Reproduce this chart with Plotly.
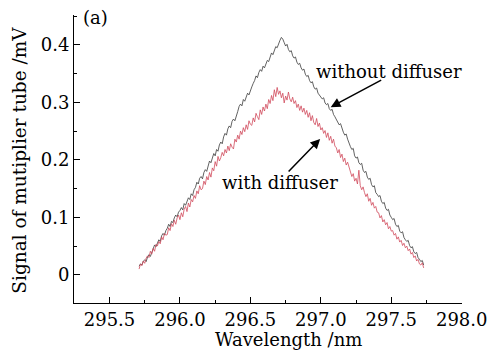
import numpy as np
import plotly.graph_objects as go

# Wavelength grid (nm): 295.71 .. 297.73 in 0.01 nm steps
wl_start = 295.71
wl_step = 0.01

without_diffuser = [
    0.015, 0.019, 0.017, 0.024, 0.026, 0.023, 0.031, 0.035, 0.032, 0.040,
    0.046, 0.052, 0.049, 0.057, 0.061, 0.058, 0.068, 0.072, 0.069, 0.077,
    0.081, 0.088, 0.084, 0.093, 0.091, 0.099, 0.104, 0.101, 0.109, 0.112,
    0.117, 0.113, 0.124, 0.121, 0.129, 0.134, 0.131, 0.141, 0.138, 0.148,
    0.152, 0.161, 0.158, 0.168, 0.171, 0.167, 0.178, 0.183, 0.180, 0.191,
    0.198, 0.195, 0.205, 0.211, 0.207, 0.218, 0.215, 0.226, 0.231, 0.228,
    0.240, 0.246, 0.243, 0.254, 0.259, 0.256, 0.267, 0.271, 0.268, 0.279,
    0.284, 0.293, 0.297, 0.294, 0.305, 0.302, 0.311, 0.316, 0.313, 0.322,
    0.327, 0.333, 0.338, 0.346, 0.343, 0.352, 0.357, 0.354, 0.363, 0.360,
    0.368, 0.373, 0.371, 0.380, 0.386, 0.383, 0.392, 0.397, 0.395, 0.403,
    0.408, 0.413, 0.410, 0.404, 0.398, 0.401, 0.392, 0.388, 0.390, 0.381,
    0.377, 0.379, 0.370, 0.366, 0.368, 0.360, 0.356, 0.358, 0.349, 0.345,
    0.347, 0.338, 0.334, 0.336, 0.327, 0.323, 0.325, 0.316, 0.313, 0.310,
    0.306, 0.308, 0.299, 0.296, 0.298, 0.289, 0.286, 0.288, 0.279, 0.275,
    0.271, 0.266, 0.261, 0.263, 0.254, 0.248, 0.243, 0.245, 0.236, 0.228,
    0.223, 0.218, 0.220, 0.207, 0.203, 0.205, 0.195, 0.192, 0.194, 0.182,
    0.178, 0.180, 0.170, 0.166, 0.168, 0.157, 0.153, 0.155, 0.143, 0.140,
    0.136, 0.138, 0.128, 0.124, 0.126, 0.116, 0.112, 0.114, 0.104, 0.100,
    0.096, 0.098, 0.088, 0.084, 0.086, 0.076, 0.073, 0.075, 0.065, 0.061,
    0.058, 0.060, 0.051, 0.047, 0.049, 0.040, 0.037, 0.039, 0.030, 0.027,
    0.023, 0.025, 0.017,
]

with_diffuser = [
    0.010, 0.019, 0.016, 0.024, 0.020, 0.029, 0.033, 0.030, 0.041, 0.036,
    0.046, 0.041, 0.053, 0.050, 0.058, 0.054, 0.066, 0.061, 0.072, 0.069,
    0.070, 0.082, 0.077, 0.089, 0.084, 0.095, 0.088, 0.099, 0.104, 0.096,
    0.108, 0.101, 0.114, 0.119, 0.110, 0.125, 0.118, 0.131, 0.127, 0.138,
    0.133, 0.146, 0.141, 0.155, 0.148, 0.150, 0.163, 0.157, 0.171, 0.165,
    0.178, 0.170, 0.186, 0.181, 0.197, 0.189, 0.206, 0.198, 0.204, 0.213,
    0.207, 0.218, 0.212, 0.224, 0.216, 0.228, 0.222, 0.219, 0.236, 0.231,
    0.243, 0.236, 0.250, 0.244, 0.256, 0.249, 0.261, 0.253, 0.268, 0.262,
    0.260, 0.273, 0.266, 0.281, 0.275, 0.270, 0.287, 0.279, 0.292, 0.285,
    0.297, 0.289, 0.305, 0.298, 0.312, 0.303, 0.322, 0.310, 0.326, 0.314,
    0.320, 0.308, 0.316, 0.299, 0.311, 0.304, 0.318, 0.306, 0.301, 0.309,
    0.298, 0.303, 0.291, 0.297, 0.286, 0.294, 0.283, 0.290, 0.279, 0.286,
    0.274, 0.282, 0.268, 0.277, 0.265, 0.261, 0.272, 0.258, 0.264, 0.252,
    0.256, 0.246, 0.251, 0.239, 0.247, 0.234, 0.241, 0.229, 0.236, 0.224,
    0.221, 0.212, 0.218, 0.204, 0.210, 0.197, 0.203, 0.191, 0.196, 0.186,
    0.180, 0.171, 0.176, 0.163, 0.168, 0.158, 0.182, 0.155, 0.148, 0.153,
    0.143, 0.136, 0.141, 0.128, 0.133, 0.121, 0.126, 0.116, 0.119, 0.109,
    0.108, 0.099, 0.103, 0.092, 0.096, 0.087, 0.091, 0.080, 0.084, 0.076,
    0.077, 0.069, 0.072, 0.062, 0.066, 0.057, 0.060, 0.051, 0.055, 0.047,
    0.050, 0.042, 0.045, 0.036, 0.039, 0.030, 0.033, 0.024, 0.027, 0.019,
    0.017, 0.021, 0.012,
]

x_ticks = [295.5, 296.0, 296.5, 297.0, 297.5, 298.0]
y_ticks = [0, 0.1, 0.2, 0.3, 0.4]

wl = np.round(wl_start + wl_step * np.arange(len(without_diffuser)), 2)

FONT = "DejaVu Serif"

fig = go.Figure()
fig.add_trace(go.Scatter(x=wl, y=without_diffuser, mode="lines",
                         line=dict(color="#3a3a3a", width=0.8), showlegend=False))
fig.add_trace(go.Scatter(x=wl, y=with_diffuser, mode="lines",
                         line=dict(color="#d04a5c", width=0.8), showlegend=False))

axis_common = dict(showline=True, linecolor="black", linewidth=1, mirror=False,
                   showgrid=False, zeroline=False, ticks="inside", ticklen=6,
                   tickcolor="black", tickwidth=1,
                   tickfont=dict(family=FONT, size=18, color="black"))

fig.update_xaxes(range=[295.248, 298.002], tickvals=x_ticks,
                 ticktext=[f"{v:.1f}" for v in x_ticks],
                 minor=dict(ticks="inside", ticklen=3, tick0=295.25, dtick=0.25,
                            tickcolor="black", showgrid=False),
                 **axis_common)
fig.update_yaxes(range=[-0.049, 0.452], tickvals=y_ticks,
                 ticktext=["0", "0.1", "0.2", "0.3", "0.4"],
                 minor=dict(ticks="inside", ticklen=3, tick0=0, dtick=0.05,
                            tickcolor="black", showgrid=False),
                 **axis_common)

annots = [
    dict(text="(a)", xref="paper", yref="paper", x=(96 - 74) / 393, y=(303 - 18) / 288,
         showarrow=False, xanchor="center", yanchor="middle",
         font=dict(family=FONT, size=18, color="black")),
    dict(text="Wavelength /nm", xref="x", yref="paper", x=296.77, y=(303 - 339) / 288,
         showarrow=False, xanchor="center", yanchor="middle",
         font=dict(family=FONT, size=18, color="black")),
    dict(text="Signal of mutiplier tube /mV", xref="paper", yref="paper",
         x=(18 - 74) / 393, y=(303 - 160) / 288, textangle=-90,
         showarrow=False, xanchor="center", yanchor="middle",
         font=dict(family=FONT, size=18.5, color="black")),
    dict(text="without diffuser", xref="x", yref="y", x=297.483, y=0.353,
         showarrow=False, xanchor="center", yanchor="middle",
         font=dict(family=FONT, size=18, color="black")),
    dict(text="with diffuser", xref="x", yref="y", x=296.709, y=0.160,
         showarrow=False, xanchor="center", yanchor="middle",
         font=dict(family=FONT, size=18, color="black")),
    dict(text="", xref="x", yref="y", axref="x", ayref="y",
         x=297.070, y=0.2917, ax=297.439, ay=0.340,
         showarrow=True, arrowhead=2, arrowsize=1.3, arrowwidth=1.5, arrowcolor="black"),
    dict(text="", xref="x", yref="y", axref="x", ayref="y",
         x=296.995, y=0.2365, ax=296.761, ay=0.177,
         showarrow=True, arrowhead=2, arrowsize=1.3, arrowwidth=1.5, arrowcolor="black"),
]

fig.update_layout(width=499, height=353, margin=dict(l=74, r=32, t=15, b=50),
                  plot_bgcolor="white", paper_bgcolor="white",
                  annotations=annots, showlegend=False)

fig.write_html("out.html", config={"displayModeBar": False},
               post_script="document.body.style.margin='0';document.body.style.overflow='hidden';")
